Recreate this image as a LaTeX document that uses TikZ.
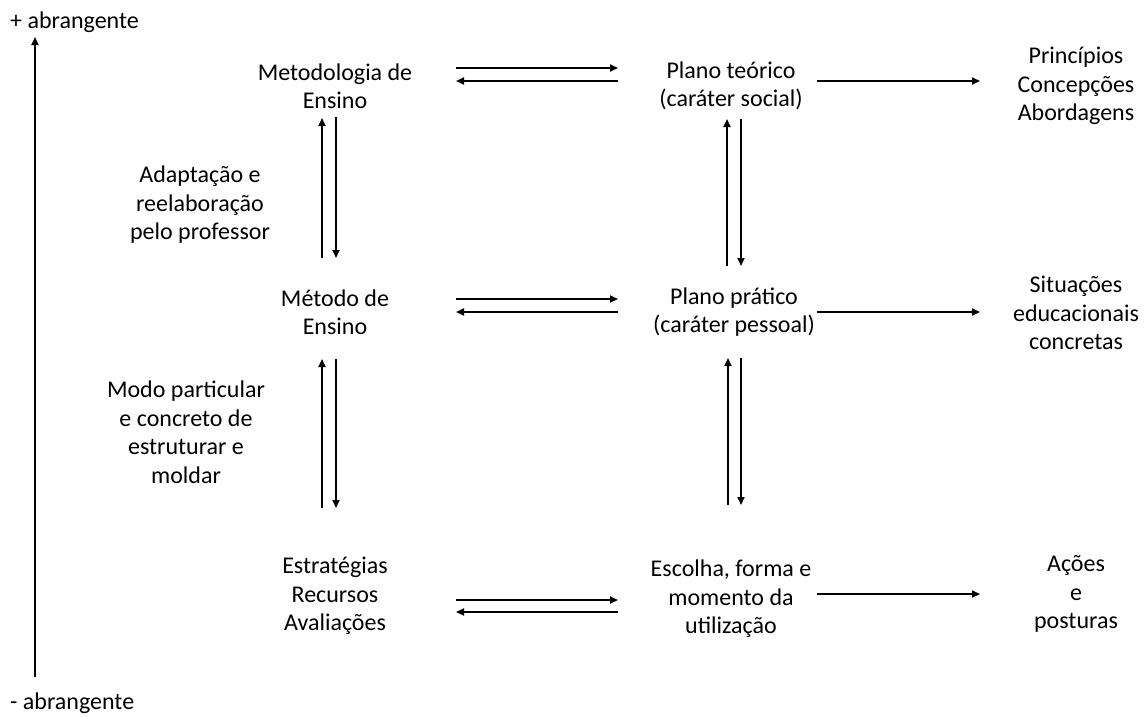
\documentclass[tikz,border=0pt]{standalone}
\usepackage{fontspec}
\setmainfont{Carlito}
\usetikzlibrary{arrows.meta}
\begin{document}
\begin{tikzpicture}[x=1pt,y=-1pt,
  lbl/.style={align=center,inner sep=0pt,font=\fontsize{24}{28.5}\selectfont},
  side/.style={align=left,inner sep=0pt,font=\fontsize{24}{28.5}\selectfont},
  arr/.style={line width=1.8pt,-{Triangle[length=8pt,width=7pt]}}]
\useasboundingbox (0,0) rectangle (1147,716);
% labels
\node[side,anchor=west] (plus) at (10,22) {+ abrangente};
\node[side,anchor=west] (minus) at (10,703) {- abrangente};
\node[lbl] (met) at (335,86) {Metodologia de\\Ensino};
\node[lbl] (pt) at (731,86) {Plano teórico\\(caráter social)};
\node[lbl] (pri) at (1076,86) {Princípios\\Concepções\\Abordagens};
\node[lbl] (mte) at (335,312) {Método de\\Ensino};
\node[lbl] (pp) at (734,312) {Plano prático\\(caráter pessoal)};
\node[lbl] (sit) at (1076,313) {Situações\\educacionais\\concretas};
\node[lbl] (est) at (335,596) {Estratégias\\Recursos\\Avaliações};
\node[lbl] (esc) at (731,599) {Escolha, forma e\\momento da\\utilização};
\node[lbl] (aco) at (1076,594) {Ações\\e\\posturas};
\node[lbl] (ada) at (200,205) {Adaptação e\\reelaboração\\pelo professor};
\node[lbl] (mod) at (186,432) {Modo particular\\e concreto de\\estruturar e\\moldar};
% axis
\coordinate (axb) at (35,677);
\coordinate (axt) at (35,37);
\draw[arr] (axb) -- (axt);
% column 1 vertical
\coordinate (c1a) at (322,258); \coordinate (c1b) at (322,118);
\coordinate (c1c) at (336,117); \coordinate (c1d) at (336,258);
\draw[arr] (c1a) -- (c1b);
\draw[arr] (c1c) -- (c1d);
\coordinate (c1e) at (322,508); \coordinate (c1f) at (322,359);
\coordinate (c1g) at (336,359); \coordinate (c1h) at (336,508);
\draw[arr] (c1e) -- (c1f);
\draw[arr] (c1g) -- (c1h);
% column 2 vertical
\coordinate (c2a) at (727,266); \coordinate (c2b) at (727,119);
\coordinate (c2c) at (741,119); \coordinate (c2d) at (741,266);
\draw[arr] (c2a) -- (c2b);
\draw[arr] (c2c) -- (c2d);
\coordinate (c2e) at (728,505); \coordinate (c2f) at (728,358);
\coordinate (c2g) at (741,358); \coordinate (c2h) at (741,505);
\draw[arr] (c2e) -- (c2f);
\draw[arr] (c2g) -- (c2h);
% horizontal pairs
\foreach \r/\ya/\yb in {1/68/81, 2/299/312, 3/600/612}{
  \coordinate (hl\r a) at (456,\ya); \coordinate (hr\r a) at (618,\ya);
  \coordinate (hl\r b) at (456,\yb); \coordinate (hr\r b) at (618,\yb);
  \draw[arr] (hl\r a) -- (hr\r a);
  \draw[arr] (hr\r b) -- (hl\r b);
}
% right arrows
\foreach \r/\y in {1/81, 2/312, 3/594}{
  \coordinate (rs\r) at (817,\y); \coordinate (re\r) at (980,\y);
  \draw[arr] (rs\r) -- (re\r);
}
\end{tikzpicture}
\end{document}
